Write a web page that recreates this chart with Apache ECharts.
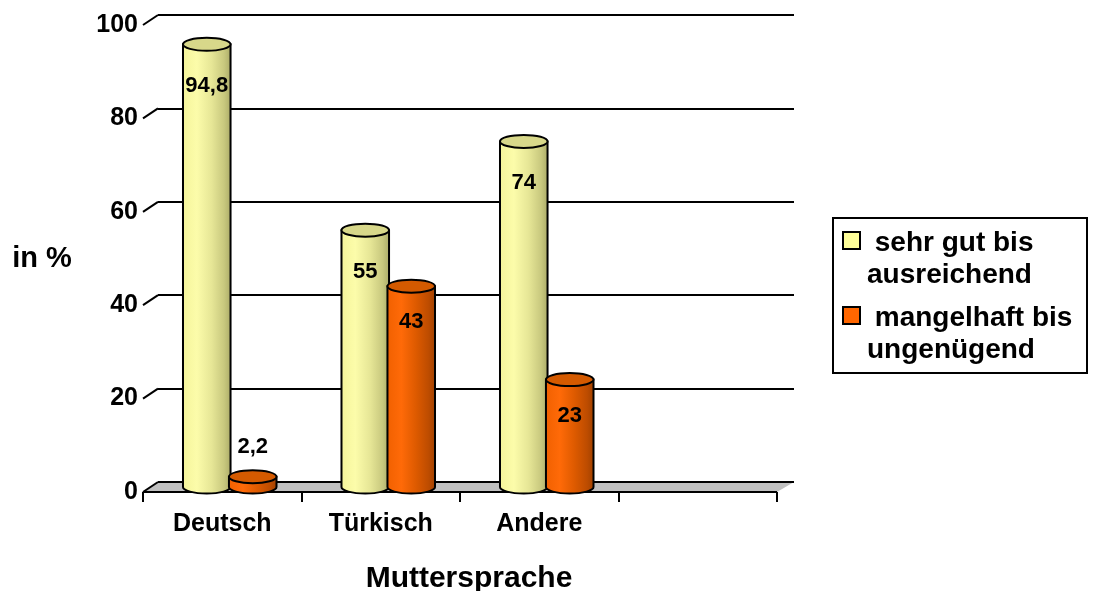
<!DOCTYPE html>
<html>
<head>
<meta charset="utf-8">
<script src="https://cdn.jsdelivr.net/npm/echarts@6/dist/echarts.min.js"></script>
<style>
  html, body { margin: 0; padding: 0; background: #fff; }
  #chart { width: 1095px; height: 591px; }
</style>
</head>
<body>
<div id="chart"></div>
<script>
// Categories (mother tongue) — the fourth slot is intentionally empty
const categories = ['Deutsch', 'Türkisch', 'Andere', ''];
const seriesNames = ['sehr gut bis ausreichend', 'mangelhaft bis ungenügend'];
const legendLines = [[' sehr gut bis', 'ausreichend'], [' mangelhaft bis', 'ungenügend']];
const goodValues = [94.8, 55, 74, null];
const poorValues = [2.2, 43, 23, null];
const yTicks = [0, 20, 40, 60, 80, 100];

const FONT = '"Liberation Sans", Arial, sans-serif';
const DX = 15, DY = -10;            // depth offset of the back wall
const PLOT_W = 634, PLOT_H = 467;

const palette = {
  good: { light: '#ffff99', top: '#d8d88a',
          stops: ['#f4f49a', '#fcfcaa', '#e6e696', '#c8c87e', '#a9a966'] },
  poor: { light: '#ff6600', top: '#d45a00',
          stops: ['#f06000', '#ff6a08', '#dd5a00', '#bd4c00', '#9e4000'] }
};

function fmt(v) { return String(v).replace('.', ','); }

function gradient(stops) {
  return new echarts.graphic.LinearGradient(0, 0, 1, 0, [
    { offset: 0, color: stops[0] },
    { offset: 0.3, color: stops[1] },
    { offset: 0.6, color: stops[2] },
    { offset: 0.85, color: stops[3] },
    { offset: 1, color: stops[4] }
  ]);
}

// Cylinder bar: body with rounded bottom + elliptic lid, value label inside/above
function cylinder(pal, side, labelGap) {
  return function (params, api) {
    const v = api.value(1);
    if (v == null || isNaN(v)) return;
    const band = api.size([1, 0])[0];
    const top = api.coord([api.value(0), v]);
    const base = api.coord([api.value(0), 0]);
    const w = band * 0.30;
    const cx = top[0] + side * band * 0.145;
    const rx = w / 2, ry = 6.5;
    const l = cx - rx, r = cx + rx;
    const body = 'M' + l + ',' + top[1] + ' L' + l + ',' + base[1] +
      ' A' + rx + ' ' + ry + ' 0 0 0 ' + r + ',' + base[1] +
      ' L' + r + ',' + top[1] + ' Z';
    const lid = 'M' + l + ',' + top[1] +
      ' A' + rx + ' ' + ry + ' 0 1 0 ' + r + ',' + top[1] +
      ' A' + rx + ' ' + ry + ' 0 1 0 ' + l + ',' + top[1] + ' Z';
    const tall = (base[1] - top[1]) > 40;
    return {
      type: 'group',
      children: [
        { type: 'path', shape: { pathData: body },
          style: { fill: gradient(pal.stops), stroke: '#000', lineWidth: 2 } },
        { type: 'path', shape: { pathData: lid },
          style: { fill: pal.top, stroke: '#000', lineWidth: 2 } },
        { type: 'text', z2: 10,
          style: { text: fmt(v), x: cx, y: tall ? top[1] + labelGap : top[1] - 30,
                   align: 'center', verticalAlign: 'middle',
                   font: 'bold 22px ' + FONT, fill: '#000' } }
      ]
    };
  };
}

// Grey floor of the 3-D box
function renderFloor(params) {
  const c = params.coordSys;
  const yb = c.y + c.height;
  return {
    type: 'group',
    children: [
      { type: 'polygon',
        shape: { points: [[c.x, yb], [c.x + DX, yb + DY], [c.x + c.width + DX + 2, yb + DY], [c.x + c.width, yb]] },
        style: { fill: '#c0c0c0' } },
      { type: 'line',
        shape: { x1: c.x + DX, y1: yb + DY, x2: c.x + c.width + DX + 2, y2: yb + DY },
        style: { stroke: '#000', lineWidth: 2 } },
      { type: 'line',
        shape: { x1: c.x, y1: yb, x2: c.x + c.width, y2: yb },
        style: { stroke: '#000', lineWidth: 2 } }
    ]
  };
}

// Slanted value ticks joining the front axis to the back wall
function renderSlantTick(params, api) {
  const c = params.coordSys;
  const p = api.coord([0, api.value(1)]);
  return {
    type: 'line',
    shape: { x1: c.x, y1: p[1], x2: c.x + DX, y2: p[1] + DY },
    style: { stroke: '#000', lineWidth: 2 }
  };
}

// Legend box built from the series names
const legendElements = [{
  type: 'rect', shape: { x: 833, y: 218, width: 254, height: 155 },
  style: { fill: '#fff', stroke: '#000', lineWidth: 2 }
}];
[palette.good, palette.poor].forEach(function (pal, i) {
  const y0 = 232 + i * 75;
  legendElements.push({
    type: 'rect', shape: { x: 843, y: y0, width: 17, height: 17 },
    style: { fill: pal.light, stroke: '#000', lineWidth: 2 }
  });
  legendElements.push({
    type: 'text', x: 867, y: y0 - 5,
    style: { text: legendLines[i].join('\n'),
             font: 'bold 28px ' + FONT, lineHeight: 32, fill: '#000',
             align: 'left', verticalAlign: 'top' }
  });
});

const chart = echarts.init(document.getElementById('chart'), null, { renderer: 'canvas' });

const gridBase = { width: PLOT_W, height: PLOT_H, outerBoundsMode: 'none', containLabel: false };

chart.setOption({
  animation: false,
  backgroundColor: '#fff',
  textStyle: { fontFamily: FONT },
  grid: [
    Object.assign({ left: 143, top: 25 }, gridBase),                       // front plane
    Object.assign({ left: 143 + DX / 2, top: 25 + DY / 2 }, gridBase),     // bar plane
    Object.assign({ left: 143 + DX, top: 25 + DY }, gridBase, { width: PLOT_W + 2 }) // back wall
  ],
  xAxis: [
    { type: 'category', gridIndex: 0, data: categories, boundaryGap: true,
      axisLine: { show: false },
      axisTick: { show: true, length: 10, lineStyle: { color: '#000', width: 2 } },
      axisLabel: { color: '#000', fontWeight: 'bold', fontSize: 25, margin: 20, fontFamily: FONT },
      splitLine: { show: false },
      name: 'Muttersprache', nameLocation: 'middle', nameGap: 87,
      nameTextStyle: { color: '#000', fontWeight: 'bold', fontSize: 30, fontFamily: FONT,
                       align: 'center', verticalAlign: 'middle', padding: [0, 0, 0, 18] } },
    { type: 'category', gridIndex: 1, data: categories, show: false },
    { type: 'category', gridIndex: 2, data: categories, show: false }
  ],
  yAxis: [
    { type: 'value', gridIndex: 0, min: 0, max: 100, interval: 20,
      axisLine: { show: false }, axisTick: { show: false }, splitLine: { show: false },
      axisLabel: { color: '#000', fontWeight: 'bold', fontSize: 25, margin: 5, fontFamily: FONT },
      name: 'in %', nameLocation: 'middle', nameGap: 101, nameRotate: 0,
      nameTextStyle: { color: '#000', fontWeight: 'bold', fontSize: 29, fontFamily: FONT,
                       align: 'center', verticalAlign: 'middle', padding: [10, 0, 0, 0] } },
    { type: 'value', gridIndex: 1, min: 0, max: 100, interval: 20, show: false },
    { type: 'value', gridIndex: 2, min: 0, max: 100, interval: 20,
      axisLine: { show: false }, axisTick: { show: false }, axisLabel: { show: false },
      splitLine: { show: true, lineStyle: { color: '#000', width: 2 } } }
  ],
  series: [
    { type: 'custom', name: 'floor', xAxisIndex: 0, yAxisIndex: 0, z: 1,
      data: [[0, 0]], renderItem: renderFloor, silent: true },
    { type: 'custom', name: 'ticks', xAxisIndex: 0, yAxisIndex: 0, z: 1,
      data: yTicks.map(function (t) { return [0, t]; }), renderItem: renderSlantTick, silent: true },
    { type: 'custom', name: seriesNames[0], xAxisIndex: 1, yAxisIndex: 1, z: 3,
      data: goodValues.map(function (v, i) { return [i, v]; }),
      renderItem: cylinder(palette.good, -1, 42) },
    { type: 'custom', name: seriesNames[1], xAxisIndex: 1, yAxisIndex: 1, z: 4,
      data: poorValues.map(function (v, i) { return [i, v]; }),
      renderItem: cylinder(palette.poor, 1, 36) }
  ],
  graphic: legendElements
});
</script>
</body>
</html>
